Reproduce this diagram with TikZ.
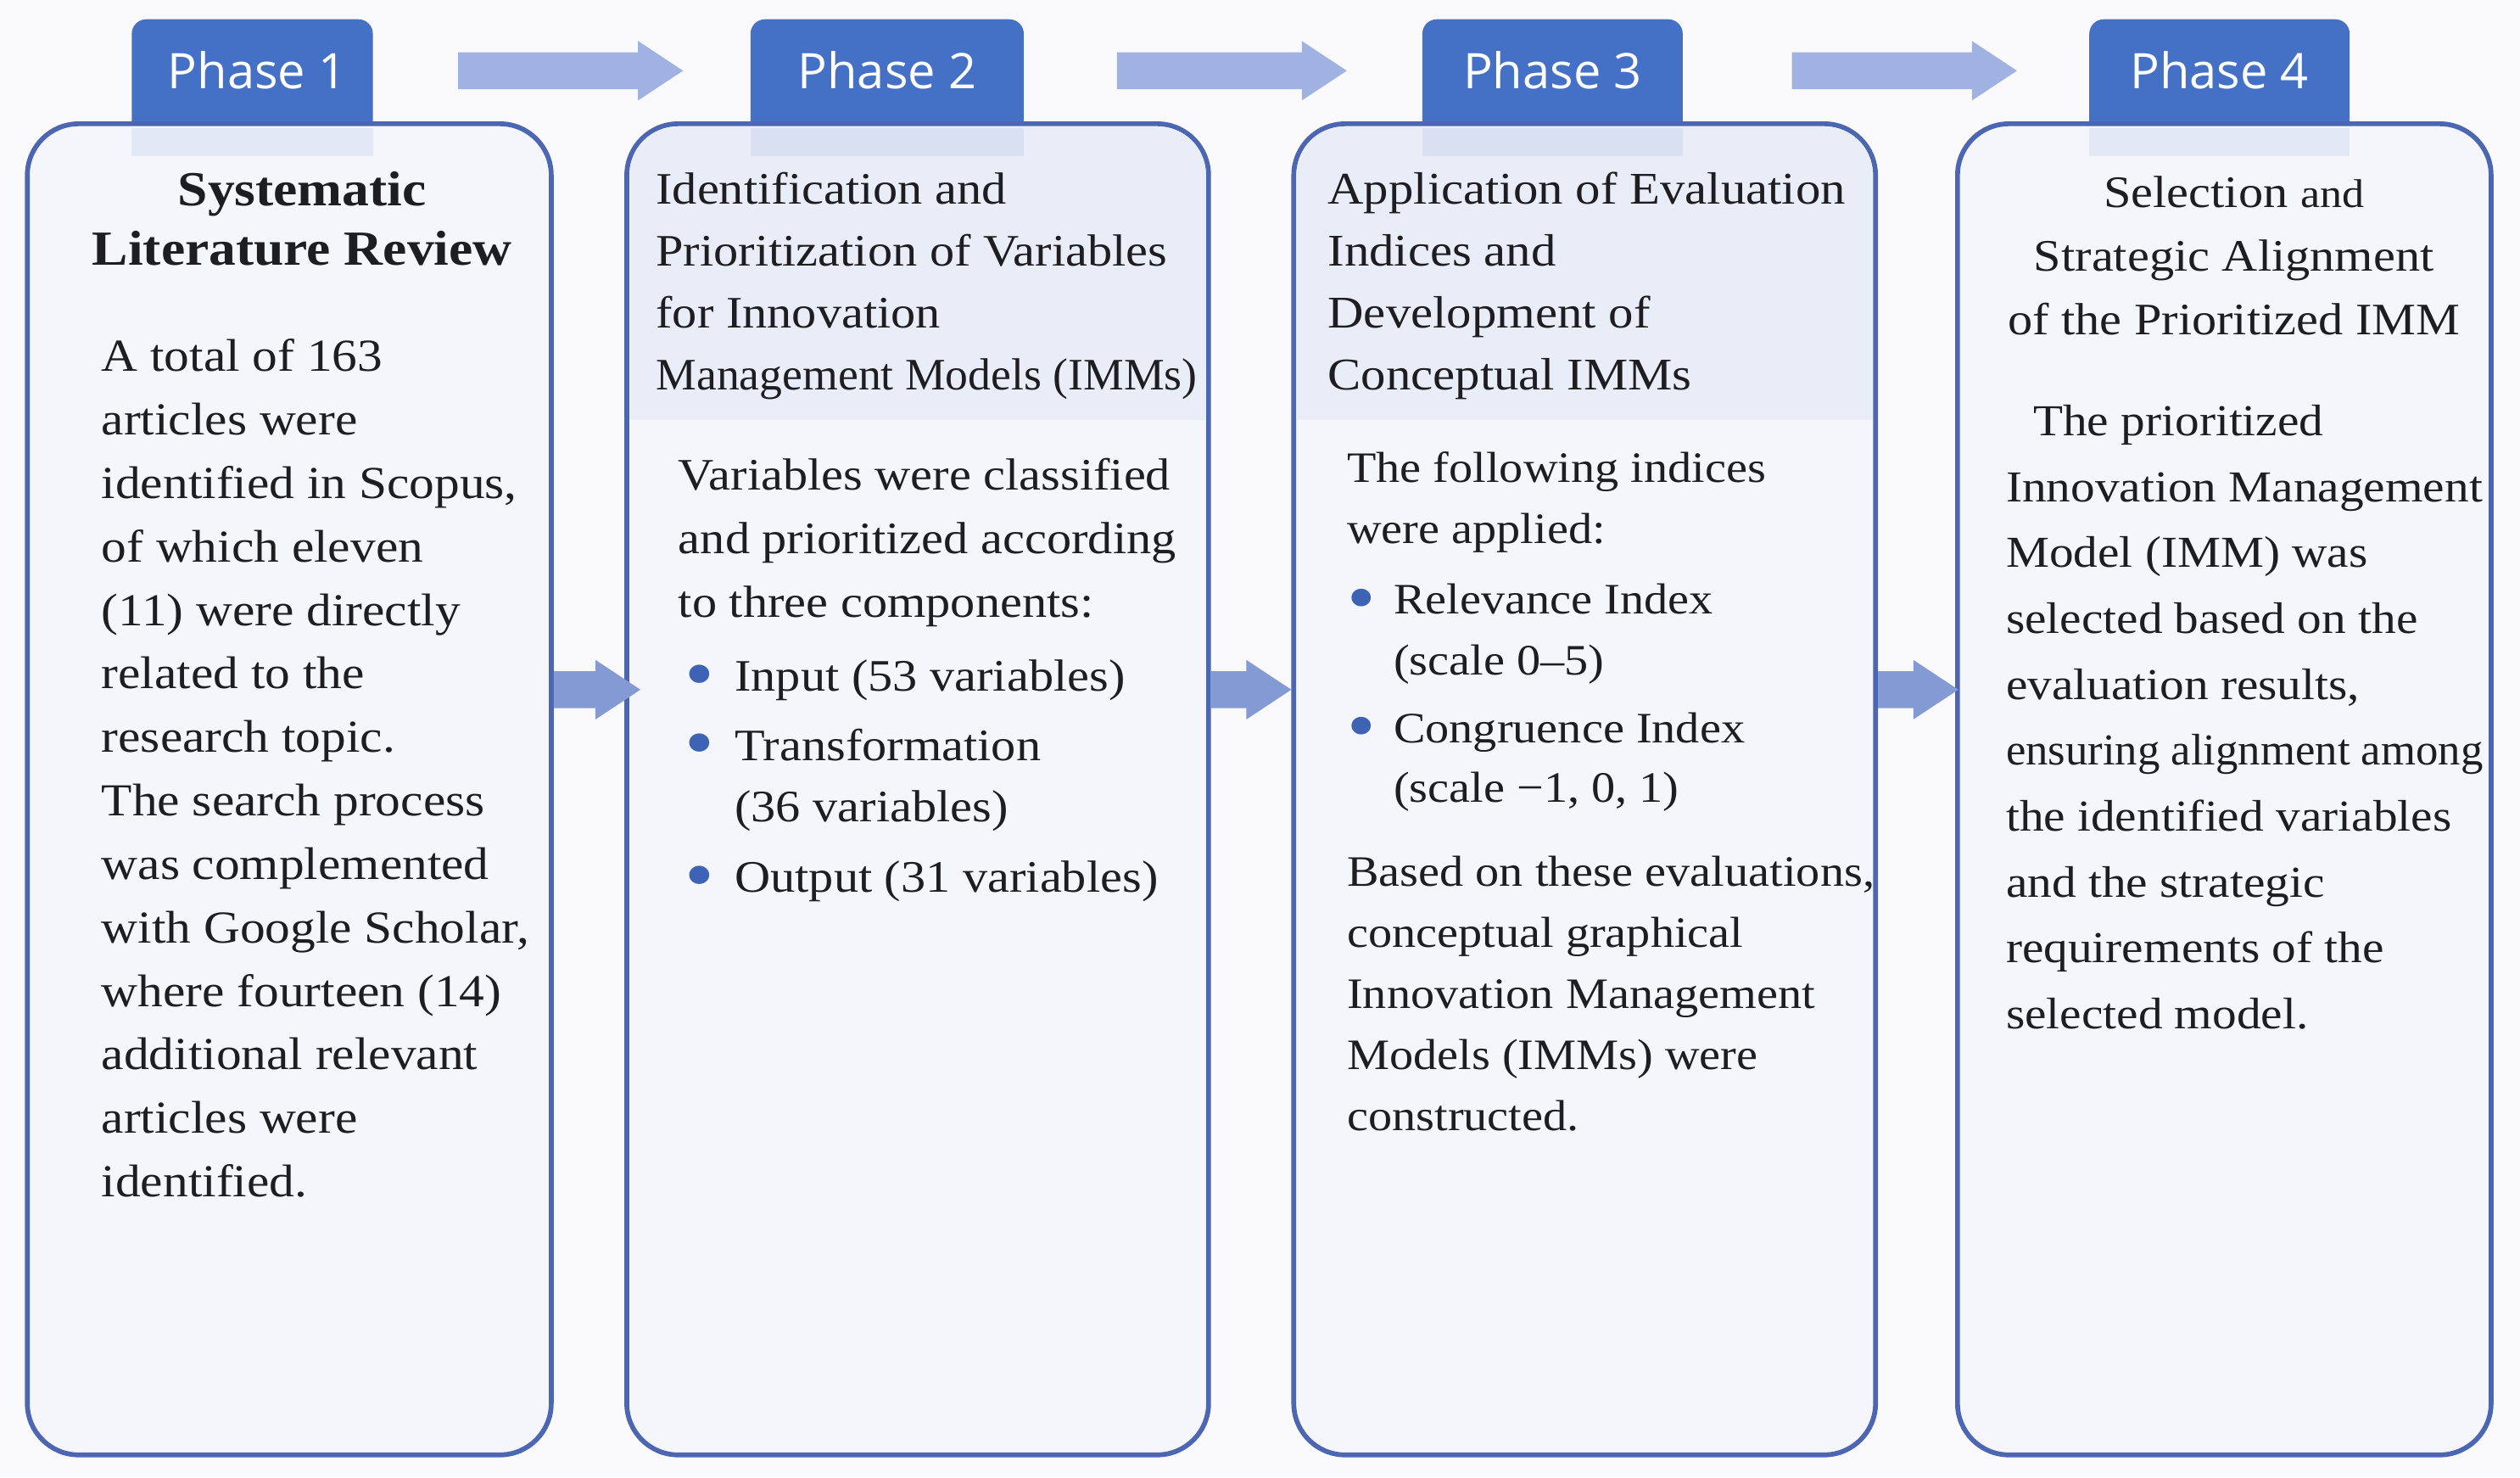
\documentclass[tikz,border=0pt]{standalone}
\usepackage{fontspec}
\usepackage{graphicx}
\setmainfont{Liberation Serif}[FakeStretch=1.1]
\newfontfamily\tabfont{Open Sans}
\usetikzlibrary{calc}
\definecolor{bgc}{RGB}{250,250,253}
\definecolor{boxfill}{RGB}{245,246,251}
\definecolor{bandc}{RGB}{233,237,247}
\definecolor{borderc}{RGB}{76,102,178}
\definecolor{tabc}{RGB}{68,112,198}
\definecolor{toparr}{RGB}{160,178,225}
\definecolor{midarr}{RGB}{132,154,212}
\definecolor{bulc}{RGB}{62,98,180}
\definecolor{txt}{RGB}{30,30,34}
\newcommand\bul{\raisebox{-5pt}{\scalebox{1.7}{\textcolor{bulc}{\textbullet}}}}
\newcommand\blockarrow[3]{%
  \fill[#3] let \p1=(#1), \p2=(#2) in
    (\x1,\y1+11.5pt) -- (\x2-28pt,\y1+11.5pt) -- (\x2-28pt,\y1+18.5pt) -- (\x2,\y1)
    -- (\x2-28pt,\y1-18.5pt) -- (\x2-28pt,\y1-11.5pt) -- (\x1,\y1-11.5pt) -- cycle;}
\newcommand\tabshape[2]{%
  \fill[tabc] (#1,834) [rounded corners=9pt] -- (#1,907) -- (#2,907) [sharp corners] -- (#2,834) -- cycle;}
\begin{document}
\begin{tikzpicture}[x=1pt,y=1pt,
  phasebox/.style={draw=borderc, line width=3pt, fill=boxfill, rounded corners=32pt, inner sep=0pt},
  tabtext/.style={anchor=base, inner sep=0pt, text=white, font=\tabfont\fontsize{30.5}{34}\selectfont},
  txtblock/.style={inner sep=0pt, text=txt}]
\fill[bgc] (0,0) rectangle (1568,919);
\useasboundingbox (0,0) rectangle (1568,919);

% tabs (drawn below the boxes)
\tabshape{82}{232}
\tabshape{467}{637}
\tabshape{885}{1047}
\tabshape{1300}{1462}

% boxes
\node[phasebox, minimum width=326pt, minimum height=828pt] (b1) at (180,428) {};
\node[phasebox, minimum width=362pt, minimum height=828pt] (b2) at (571,428) {};
\node[phasebox, minimum width=362pt, minimum height=828pt] (b3) at (986,428) {};
\node[phasebox, minimum width=332pt, minimum height=828pt] (b4) at (1384,428) {};

% header bands
\foreach \b in {b2,b3}{
  \begin{scope}
    \clip[rounded corners=29pt] ([shift={(3.4pt,3.4pt)}]\b.south west) rectangle ([shift={(-3.4pt,-3.4pt)}]\b.north east);
    \fill[bandc] (\b.north west) rectangle ([yshift=-186pt]\b.north east);
  \end{scope}
}
% faint tab continuation
\fill[tabc, opacity=0.10] (82,822) rectangle (232,839.5);
\fill[tabc, opacity=0.10] (467,822) rectangle (637,839.5);
\fill[tabc, opacity=0.10] (885,822) rectangle (1047,839.5);
\fill[tabc, opacity=0.10] (1300,822) rectangle (1462,839.5);

% tab labels
\node[tabtext] (p1) at (160,864) {Phase 1};
\node[tabtext] (p2) at (552,864) {Phase 2};
\node[tabtext] (p3) at (966,864) {Phase 3};
\node[tabtext] (p4) at (1381,864) {Phase 4};

% top arrows
\coordinate (ta1s) at (285,875); \coordinate (ta1e) at (425,875);
\coordinate (ta2s) at (695,875); \coordinate (ta2e) at (838,875);
\coordinate (ta3s) at (1115,875); \coordinate (ta3e) at (1255,875);
\blockarrow{ta1s}{ta1e}{toparr}
\blockarrow{ta2s}{ta2e}{toparr}
\blockarrow{ta3s}{ta3e}{toparr}

% middle arrows
\path (b1.east) ++(0,62) coordinate (m1s);
\path (b2.west) ++(10,62) coordinate (m1e);
\path (b2.east) ++(0,62) coordinate (m2s);
\path (b3.west) ++(0,62) coordinate (m2e);
\path (b3.east) ++(0,62) coordinate (m3s);
\path (b4.west) ++(2,62) coordinate (m3e);
\blockarrow{m1s}{m1e}{midarr}
\blockarrow{m2s}{m2e}{midarr}
\blockarrow{m3s}{m3e}{midarr}

% Box 1 text
\node[txtblock, anchor=base] (h1) at (188,791) {\parbox[t]{320pt}{\centering\fontsize{30.5}{37}\selectfont\bfseries Systematic\\Literature Review}};
\node[txtblock, anchor=base west] (x1) at (63,688) {\parbox[t]{300pt}{\raggedright\fontsize{28.5}{39.5}\selectfont
A total of 163\\
articles were\\
identified in Scopus,\\
of which eleven\\
(11) were directly\\
related to the\\
research topic.\\
The search process\\
was complemented\\
with Google Scholar,\\
where fourteen (14)\\
additional relevant\\
articles were\\
identified.}};

% Box 2 text
\node[txtblock, anchor=base west] (h2) at (408,792) {\parbox[t]{350pt}{\raggedright\fontsize{28}{38.5}\selectfont
Identification and\\
Prioritization of Variables\\
for Innovation\\
\scalebox{0.92}[1]{Management Models (IMMs)}}};
\node[txtblock, anchor=base west] (x2) at (422,614) {\parbox[t]{330pt}{\raggedright\fontsize{28}{39.5}\selectfont
Variables were classified\\
and prioritized according\\
to three components:\\[6.5pt]
\makebox[35pt][l]{\hspace{4pt}\bul}Input (53 variables)\\[3.5pt]
\makebox[35pt][l]{\hspace{4pt}\bul}Transformation\\[-1.5pt]
\hspace*{35pt}(36 variables)\\[4.5pt]
\makebox[35pt][l]{\hspace{4pt}\bul}Output (31 variables)}};

% Box 3 text
\node[txtblock, anchor=base west] (h3) at (826,792) {\parbox[t]{350pt}{\raggedright\fontsize{28.2}{38.5}\selectfont
Application of Evaluation\\
Indices and\\
Development of\\
Conceptual IMMs}};
\node[txtblock, anchor=base west] (x3) at (838,619) {\parbox[t]{330pt}{\raggedright\fontsize{27}{38}\selectfont
The following indices\\
were applied:\\[6pt]
\makebox[29pt][l]{\hspace{0pt}\bul}Relevance Index\\
\hspace*{29pt}(scale 0–5)\\[4pt]
\makebox[29pt][l]{\hspace{0pt}\bul}Congruence Index\\[-1pt]
\hspace*{29pt}(scale −1, 0, 1)\\[14pt]
Based on these evaluations,\\
conceptual graphical\\
Innovation Management\\
Models (IMMs) were\\
constructed.}};

% Box 4 text
\node[txtblock, anchor=base] (h4) at (1390,790) {\parbox[t]{330pt}{\centering\fontsize{28}{39.5}\selectfont
Selection {\fontsize{25}{39.5}\selectfont and}\\
Strategic Alignment\\
of the Prioritized IMM}};
\node[txtblock, anchor=base west] (x4) at (1248,648) {\parbox[t]{330pt}{\raggedright\fontsize{27.5}{41}\selectfont
\hspace*{17pt}The prioritized\\
Innovation Management\\
Model (IMM) was\\
selected based on the\\
evaluation results,\\
\scalebox{0.92}[1]{ensuring alignment among}\\
the identified variables\\
and the strategic\\
requirements of the\\
selected model.}};
\end{tikzpicture}
\end{document}
